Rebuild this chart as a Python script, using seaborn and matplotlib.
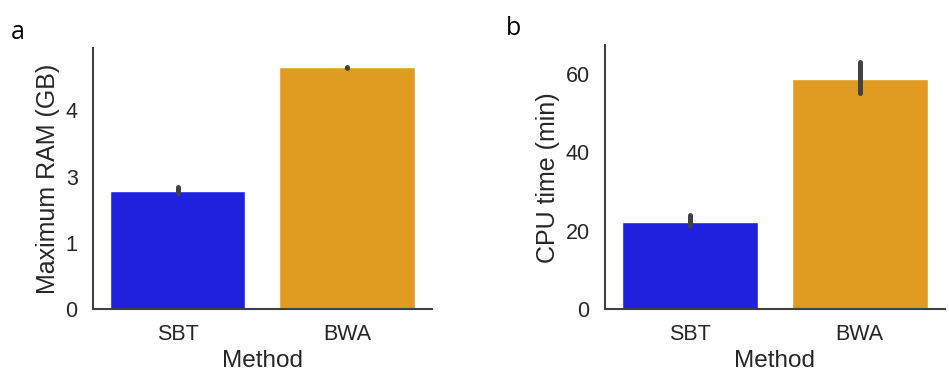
import numpy as np
import pandas as pd
import matplotlib
matplotlib.use("Agg")
import matplotlib.pyplot as plt
import seaborn as sns

# Benchmark summary per alignment method
methods = ["SBT", "BWA"]
ram_mean = [2.57, 4.65]        # GB
ram_low = [2.50, 4.64]
ram_high = [2.68, 4.66]
cpu_mean = [22.1, 58.7]        # minutes
cpu_low = [21.1, 55.0]
cpu_high = [24.0, 63.0]
ram_ticks = [0, 1, 3, 4]
cpu_ticks = [0, 20, 40, 60]
palette = ["blue", "orange"]

sns.set_theme(style="white")
plt.rcParams["font.family"] = ["Liberation Sans", "DejaVu Sans"]
plt.rcParams["axes.edgecolor"] = ".25"
plt.rcParams["axes.linewidth"] = 1.5
plt.rcParams["text.color"] = ".15"
plt.rcParams["axes.labelcolor"] = ".15"
plt.rcParams["xtick.color"] = ".15"
plt.rcParams["ytick.color"] = ".15"

ram_df = pd.DataFrame({"Method": methods, "ram": ram_mean})
cpu_df = pd.DataFrame({"Method": methods, "cpu": cpu_mean})

fig = plt.figure(figsize=(9.49, 3.77), dpi=100)
ax1 = fig.add_axes([0.098, 0.180, 0.357, 0.692])
ax2 = fig.add_axes([0.6375, 0.180, 0.358, 0.700])


# RAM axis: compressed segment between 1 and 3 GB
def ram_fwd(v):
    v = np.asarray(v, dtype=float)
    return np.where(v <= 1, v, np.where(v <= 3, 1 + (v - 1) / 2, v - 1))


def ram_inv(p):
    p = np.asarray(p, dtype=float)
    return np.where(p <= 1, p, np.where(p <= 2, 1 + 2 * (p - 1), p + 1))


def draw_panel(ax, df, col, low, high, ylabel):
    sns.barplot(data=df, x="Method", y=col, hue="Method", palette=palette,
                order=methods, hue_order=methods, errorbar=None,
                legend=False, ax=ax, width=0.8)
    for i, (lo, hi) in enumerate(zip(low, high)):
        ax.plot([i, i], [lo, hi], color=".26", linewidth=3.6,
                solid_capstyle="round", zorder=3)
    ax.set_xlim(-0.5, 1.5)
    ax.set_ylabel(ylabel, fontsize=18, labelpad=4)
    ax.set_xlabel("Method", fontsize=17.5, labelpad=3)
    ax.tick_params(axis="both", length=0, labelsize=15.5)
    ax.tick_params(axis="y", pad=11)
    ax.tick_params(axis="x", pad=11)
    sns.despine(ax=ax)


draw_panel(ax1, ram_df, "ram", ram_low, ram_high, "Maximum RAM (GB)")
ax1.set_yscale("function", functions=(ram_fwd, ram_inv))
ax1.set_ylim(0, 4.94)
ax1.set_yticks(ram_ticks)
ax1.set_yticklabels([str(t) for t in ram_ticks])
ax1.minorticks_off()

draw_panel(ax2, cpu_df, "cpu", cpu_low, cpu_high, "CPU time (min)")
ax2.set_ylim(0, 67.2)
ax2.set_yticks(cpu_ticks)

fig.text(0.011, 0.915, "a", fontsize=18, color="black", va="center",
         family=["Open Sans", "DejaVu Sans"])
fig.text(0.533, 0.925, "b", fontsize=18, color="black", va="center",
         family=["Open Sans", "DejaVu Sans"])

fig.savefig("out.png", dpi=100)
